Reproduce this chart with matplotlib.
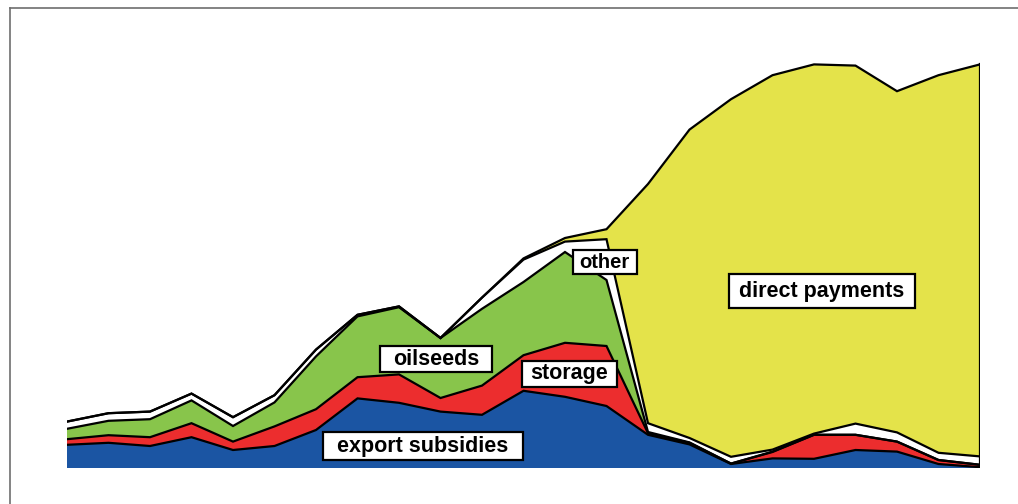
import numpy as np
import matplotlib
matplotlib.use("Agg")
import matplotlib.pyplot as plt
from matplotlib.lines import Line2D
from matplotlib.patches import Rectangle

plt.rcParams['font.family'] = ['Liberation Sans', 'DejaVu Sans']

# one entry per year, stacked bottom to top
years = np.arange(23)
export_subsidies = [0.58, 0.63, 0.55, 0.77, 0.45, 0.55, 0.95, 1.74, 1.63, 1.41, 1.33, 1.93,
                    1.78, 1.55, 0.83, 0.59, 0.10, 0.24, 0.23, 0.45, 0.41, 0.10, 0.02]
storage = [0.14, 0.19, 0.22, 0.35, 0.21, 0.49, 0.52, 0.53, 0.71, 0.34, 0.73, 0.89,
           1.35, 1.50, 0.04, 0.04, 0.01, 0.16, 0.60, 0.38, 0.25, 0.10, 0.06]
oilseeds = [0.26, 0.36, 0.45, 0.57, 0.39, 0.60, 1.32, 1.52, 1.68, 1.50, 1.92, 1.83,
            2.27, 1.65, 0.03, 0.01, 0.00, 0.01, 0.00, 0.00, 0.00, 0.00, 0.00]
other = [0.18, 0.19, 0.19, 0.17, 0.22, 0.18, 0.17, 0.04, 0.02, 0.00, 0.28, 0.56,
         0.26, 1.02, 0.22, 0.11, 0.17, 0.05, 0.03, 0.28, 0.23, 0.18, 0.21]
direct_payments = [0, 0, 0, 0, 0, 0, 0, 0, 0, 0, 0, 0.03,
                   0.09, 0.25, 5.98, 7.71, 8.94, 9.36, 9.23, 8.95, 8.53, 9.44, 9.80]

layers = [export_subsidies, storage, oilseeds, other, direct_payments]
colors = ['#1b55a3', '#ec2d2e', '#88c54b', '#ffffff', '#e4e34a']

fig = plt.figure(figsize=(10.18, 5.04), dpi=100)
ax = fig.add_axes([67 / 1018, 36 / 504, 913 / 1018, 440 / 504])

base = np.zeros(len(years))
for vals, col in zip(layers, colors):
    top = base + np.array(vals)
    ax.fill_between(years, base, top, facecolor=col, edgecolor='none', linewidth=0)
    base = top

# black outline along the top of every band
base = np.zeros(len(years))
for vals in layers:
    base = base + np.array(vals)
    ax.plot(years, base, color='black', lw=1.6, solid_joinstyle='miter')
ax.plot([years[-1], years[-1]], [0, base[-1]], color='black', lw=1.6)

ax.set_xlim(years[0], years[-1])
ax.set_ylim(0, 11)
ax.axis('off')

# (text, x, y, fontsize, box width px, box height px)
labels = [
    ('direct payments', 18.19, 4.42, 15.5, 186, 34),
    ('export subsidies', 8.58, 0.54, 15.5, 200, 28),
    ('oilseeds', 8.90, 2.72, 15.5, 112, 26),
    ('storage', 12.10, 2.35, 15.5, 95, 26),
    ('other', 12.96, 5.14, 14.5, 64, 24),
]
to_fig = ax.transData + fig.transFigure.inverted()
for s, x, y, fs, w, h in labels:
    ax.text(x, y, s, fontsize=fs, fontweight='bold', ha='center', va='center', zorder=6)
    cx, cy = to_fig.transform((x, y))
    fw, fh = w / 1018, h / 504
    ax.add_artist(Rectangle((cx - fw / 2, cy - fh / 2), fw, fh, transform=fig.transFigure,
                            facecolor='white', edgecolor='black', linewidth=1.6,
                            zorder=5, clip_on=False))

# frame lines along the top and left of the figure
fig.add_artist(Line2D([10 / 1018, 10 / 1018], [0, 1 - 8 / 504], color='#6e6e6e', lw=1.2,
                      transform=fig.transFigure))
fig.add_artist(Line2D([10 / 1018, 1], [1 - 8 / 504, 1 - 8 / 504], color='#6e6e6e', lw=1.2,
                      transform=fig.transFigure))

fig.savefig('out.png', dpi=100)
